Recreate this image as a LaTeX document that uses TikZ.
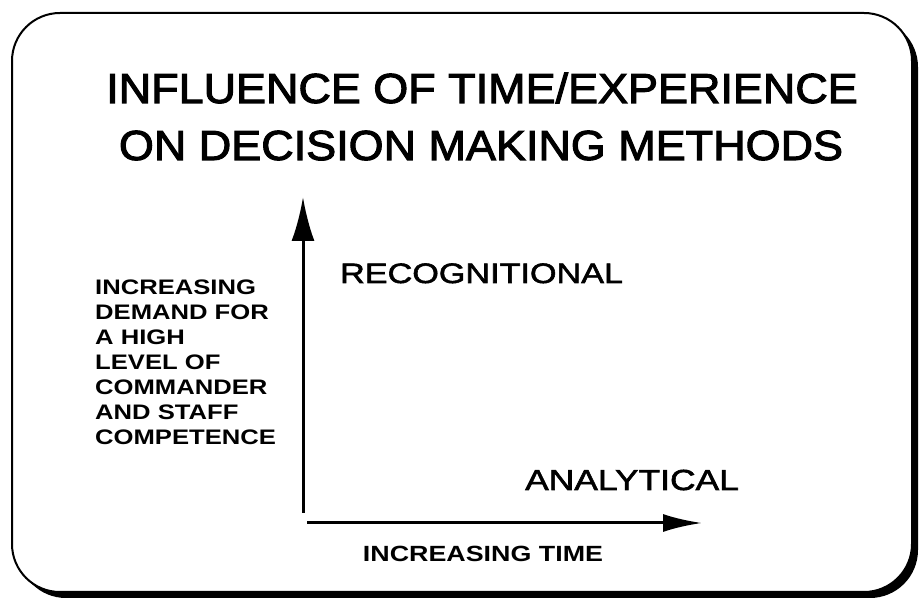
\documentclass[tikz,border=0pt]{standalone}
\usepackage{fontspec}
\setmainfont{Liberation Sans}
\newfontfamily\titlefont[FakeStretch=1.07, FakeBold=2.5]{Liberation Sans}
\newfontfamily\widefont[FakeStretch=1.22, FakeBold=2]{Liberation Sans}
\newfontfamily\sidefont[FakeStretch=1.22]{Liberation Sans Bold}
\usetikzlibrary{arrows.meta}
\usetikzlibrary{positioning}

\begin{document}
\begin{tikzpicture}[x=1pt, y=1pt,
    title/.style={font=\titlefont\fontsize{42}{48}\selectfont, inner sep=0, anchor=base},
    side/.style={font=\sidefont\fontsize{21}{25}\selectfont, inner sep=0, align=left, anchor=north west},
    method/.style={font=\widefont\fontsize{28}{32}\selectfont, inner sep=0, anchor=base west},
    axis/.style={line width=3pt}]
      \useasboundingbox (0, 0) rectangle (919, 600);

      % frame with its shadow
      \fill[rounded corners=48pt] (18, 2) rectangle (918, 581);
      \draw[line width=2pt, fill=white, rounded corners=48pt] (12, 8) rectangle (912, 587);

      \node[title] (head1) at (482, 497) {INFLUENCE OF TIME/EXPERIENCE};
      \node[title] (head2) at (481, 440) {ON DECISION MAKING METHODS};

      \coordinate (origin) at (303, 87);
      \coordinate (ytip) at (303, 403);
      \coordinate (xstart) at (307, 77);
      \coordinate (xtip) at (702, 77);
      \draw[axis, -{Latex[length=44pt, width=23pt]}] (origin) -- (ytip);
      \draw[axis, -{Latex[length=39pt, width=18pt]}] (xstart) -- (xtip);

      \node[side] (demand) at (95, 320) {INCREASING\\DEMAND FOR\\A HIGH\\LEVEL OF\\COMMANDER\\AND STAFF\\COMPETENCE};
      \node[method] (recog) at (340, 317) {RECOGNITIONAL};
      \node[method, font=\widefont\fontsize{29}{32}\selectfont] (analyt) at (525, 110) {ANALYTICAL};
      \node[side, anchor=base, font=\sidefont\fontsize{22}{25}\selectfont] (time) at (483, 38) {INCREASING TIME};
    \end{tikzpicture}
\end{document}
